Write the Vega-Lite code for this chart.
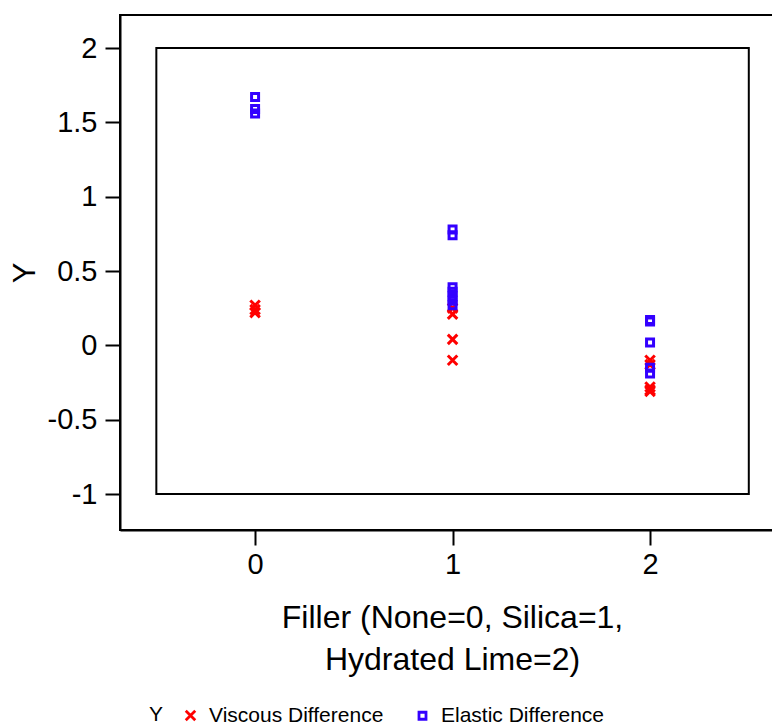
{
  "$schema": "https://vega.github.io/schema/vega-lite/v6.json",
  "width": 660,
  "height": 515,
  "autosize": {"type": "none"},
  "padding": {"left": 120, "top": 15, "right": 0, "bottom": 196},
  "background": "white",
  "config": {
    "font": "Liberation Sans",
    "view": {"stroke": "black", "strokeWidth": 2}
  },
  "layer": [
    {
      "data": {"values": [{"x0": -0.5, "x1": 2.5, "y0": -1, "y1": 2}]},
      "mark": {"type": "rect", "fill": null, "stroke": "black", "strokeWidth": 2},
      "encoding": {
        "x": {"field": "x0", "type": "quantitative", "scale": {"domain": [-0.684, 2.658], "nice": false, "zero": false}, "axis": {"values": [0, 1, 2], "format": "d", "grid": false, "domainColor": "black", "domainWidth": 2, "tickColor": "black", "tickWidth": 2, "tickSize": 15, "labelColor": "black", "titleColor": "black", "labelFont": "Liberation Sans", "titleFont": "Liberation Sans", "labelFontSize": 29, "titleFontSize": 32, "titleFontWeight": "normal", "labelPadding": 5, "title": ["Filler (None=0, Silica=1,", "Hydrated Lime=2)"], "titlePadding": 23, "titleX": 332, "titleLineHeight": 42}},
        "x2": {"field": "x1"},
        "y": {"field": "y0", "type": "quantitative", "scale": {"domain": [-1.242, 2.222], "nice": false, "zero": false}, "axis": {"values": [-1, -0.5, 0, 0.5, 1, 1.5, 2], "labelExpr": "datum.value + ''", "grid": false, "domainColor": "black", "domainWidth": 2, "tickColor": "black", "tickWidth": 2, "tickSize": 15, "labelColor": "black", "titleColor": "black", "labelFont": "Liberation Sans", "titleFont": "Liberation Sans", "labelFontSize": 29, "titleFontSize": 31, "titleFontWeight": "normal", "labelPadding": 8, "title": "Y", "titlePadding": 6}},
        "y2": {"field": "y1"}
      }
    },
    {
      "data": {"values": [
        {"filler": 0, "value": 0.27, "series": "Viscous Difference"},
        {"filler": 0, "value": 0.24, "series": "Viscous Difference"},
        {"filler": 0, "value": 0.22, "series": "Viscous Difference"},
        {"filler": 1, "value": 0.25, "series": "Viscous Difference"},
        {"filler": 1, "value": 0.21, "series": "Viscous Difference"},
        {"filler": 1, "value": 0.04, "series": "Viscous Difference"},
        {"filler": 1, "value": -0.10, "series": "Viscous Difference"},
        {"filler": 2, "value": -0.10, "series": "Viscous Difference"},
        {"filler": 2, "value": -0.13, "series": "Viscous Difference"},
        {"filler": 2, "value": -0.28, "series": "Viscous Difference"},
        {"filler": 2, "value": -0.30, "series": "Viscous Difference"},
        {"filler": 2, "value": -0.31, "series": "Viscous Difference"},
        {"filler": 0, "value": 1.67, "series": "Elastic Difference"},
        {"filler": 0, "value": 1.59, "series": "Elastic Difference"},
        {"filler": 0, "value": 1.56, "series": "Elastic Difference"},
        {"filler": 1, "value": 0.78, "series": "Elastic Difference"},
        {"filler": 1, "value": 0.74, "series": "Elastic Difference"},
        {"filler": 1, "value": 0.39, "series": "Elastic Difference"},
        {"filler": 1, "value": 0.36, "series": "Elastic Difference"},
        {"filler": 1, "value": 0.33, "series": "Elastic Difference"},
        {"filler": 1, "value": 0.30, "series": "Elastic Difference"},
        {"filler": 1, "value": 0.27, "series": "Elastic Difference"},
        {"filler": 2, "value": 0.17, "series": "Elastic Difference"},
        {"filler": 2, "value": 0.16, "series": "Elastic Difference"},
        {"filler": 2, "value": 0.02, "series": "Elastic Difference"},
        {"filler": 2, "value": -0.15, "series": "Elastic Difference"},
        {"filler": 2, "value": -0.19, "series": "Elastic Difference"}
      ]},
      "mark": {"type": "point", "filled": false, "strokeWidth": 3, "opacity": 1},
      "encoding": {
        "x": {"field": "filler", "type": "quantitative"},
        "y": {"field": "value", "type": "quantitative"},
        "size": {"field": "series", "type": "nominal", "scale": {"domain": ["Viscous Difference", "Elastic Difference"], "range": [90, 49]}, "legend": null},
        "color": {"field": "series", "type": "nominal", "sort": ["Viscous Difference", "Elastic Difference"], "scale": {"domain": ["Viscous Difference", "Elastic Difference"], "range": ["#ff0000", "#3300ff"]}, "legend": {"title": "Y", "orient": "none", "direction": "horizontal", "legendX": 29, "legendY": 690, "titleOrient": "left", "titleFont": "Liberation Sans", "labelFont": "Liberation Sans", "titleFontSize": 21, "titleFontWeight": "normal", "titleColor": "black", "labelFontSize": 21, "labelColor": "black", "labelLimit": 400, "symbolSize": 45, "symbolStrokeWidth": 2.8, "columnPadding": 28, "titlePadding": 16, "labelOffset": 8}},
        "shape": {"field": "series", "type": "nominal", "sort": ["Viscous Difference", "Elastic Difference"], "scale": {"domain": ["Viscous Difference", "Elastic Difference"], "range": ["M-1,-1L1,1M-1,1L1,-1", "square"]}}
      }
    }
  ]
}
